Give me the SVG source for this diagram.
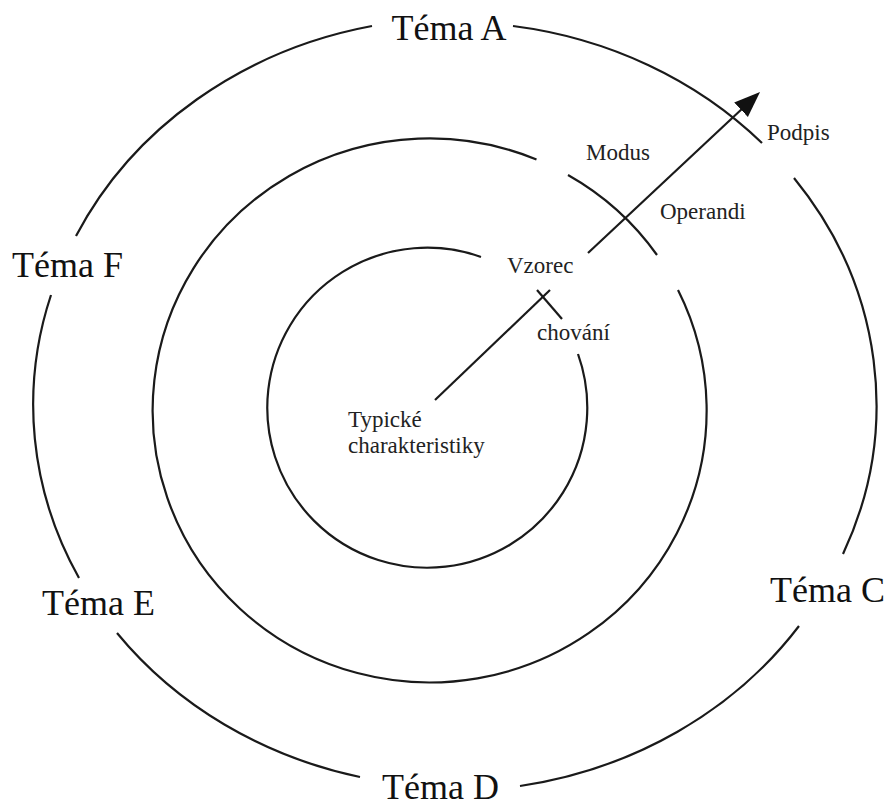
<svg xmlns="http://www.w3.org/2000/svg" width="894" height="807" viewBox="0 0 894 807">
  <style>
    .ring { fill: none; stroke: #1a1a1a; stroke-width: 2.2; }
    .conn { fill: none; stroke: #1a1a1a; stroke-width: 2.2; }
    .big { font-family: "Liberation Serif", "Times New Roman", serif; font-size: 36px; fill: #111; }
    .small { font-family: "Liberation Serif", "Times New Roman", serif; font-size: 23px; fill: #222; }
  </style>
  <defs>
    <marker id="head" markerUnits="userSpaceOnUse" markerWidth="28" markerHeight="22" refX="22" refY="10" orient="auto">
      <path d="M0,0 L26,10 L0,20 z" fill="#111"/>
    </marker>
  </defs>
  <rect width="894" height="807" fill="#ffffff"/>

  <g id="outer-ring">
    <path class="ring" d="M513,26 A422,382 0 0 1 762,143"/>
    <path class="ring" d="M794,178 A422,382 0 0 1 843,554"/>
    <path class="ring" d="M799,626 A422,382 0 0 1 520,786"/>
    <path class="ring" d="M360,777 A422,382 0 0 1 117,633"/>
    <path class="ring" d="M79,578 A422,382 0 0 1 51,295"/>
    <path class="ring" d="M76,236 A422,382 0 0 1 372,26"/>
  </g>

  <g id="middle-ring">
    <path class="ring" d="M568,175 A277,272 0 0 1 657,255"/>
    <path class="ring" d="M678,290 A277,272 0 1 1 536.5,159.5"/>
  </g>

  <g id="inner-ring">
    <path class="ring" d="M578,354 A160,160 0 1 1 481,257"/>
  </g>

  <g id="connectors">
    <line class="conn" x1="435" y1="400" x2="550" y2="290"/>
    <line class="conn" x1="537" y1="290" x2="562" y2="319"/>
    <line class="conn" x1="588" y1="253" x2="757.1" y2="94.7" marker-end="url(#head)"/>
  </g>

  <g id="tema-a"><text class="big" x="449" y="40" text-anchor="middle">Téma A</text></g>
  <g id="tema-c"><text class="big" x="770" y="602">Téma C</text></g>
  <g id="tema-d"><text class="big" x="382" y="799">Téma D</text></g>
  <g id="tema-e"><text class="big" x="42" y="615">Téma E</text></g>
  <g id="tema-f"><text class="big" x="12" y="277">Téma F</text></g>

  <g id="podpis"><text class="small" x="767" y="140">Podpis</text></g>
  <g id="modus"><text class="small" x="586" y="160">Modus</text></g>
  <g id="operandi"><text class="small" x="660" y="219">Operandi</text></g>
  <g id="vzorec"><text class="small" x="507" y="273">Vzorec</text></g>
  <g id="chovani"><text class="small" x="537" y="340">chování</text></g>
  <g id="typicke"><text class="small" x="348" y="427">Typické</text><text class="small" x="348" y="453">charakteristiky</text></g>
</svg>
